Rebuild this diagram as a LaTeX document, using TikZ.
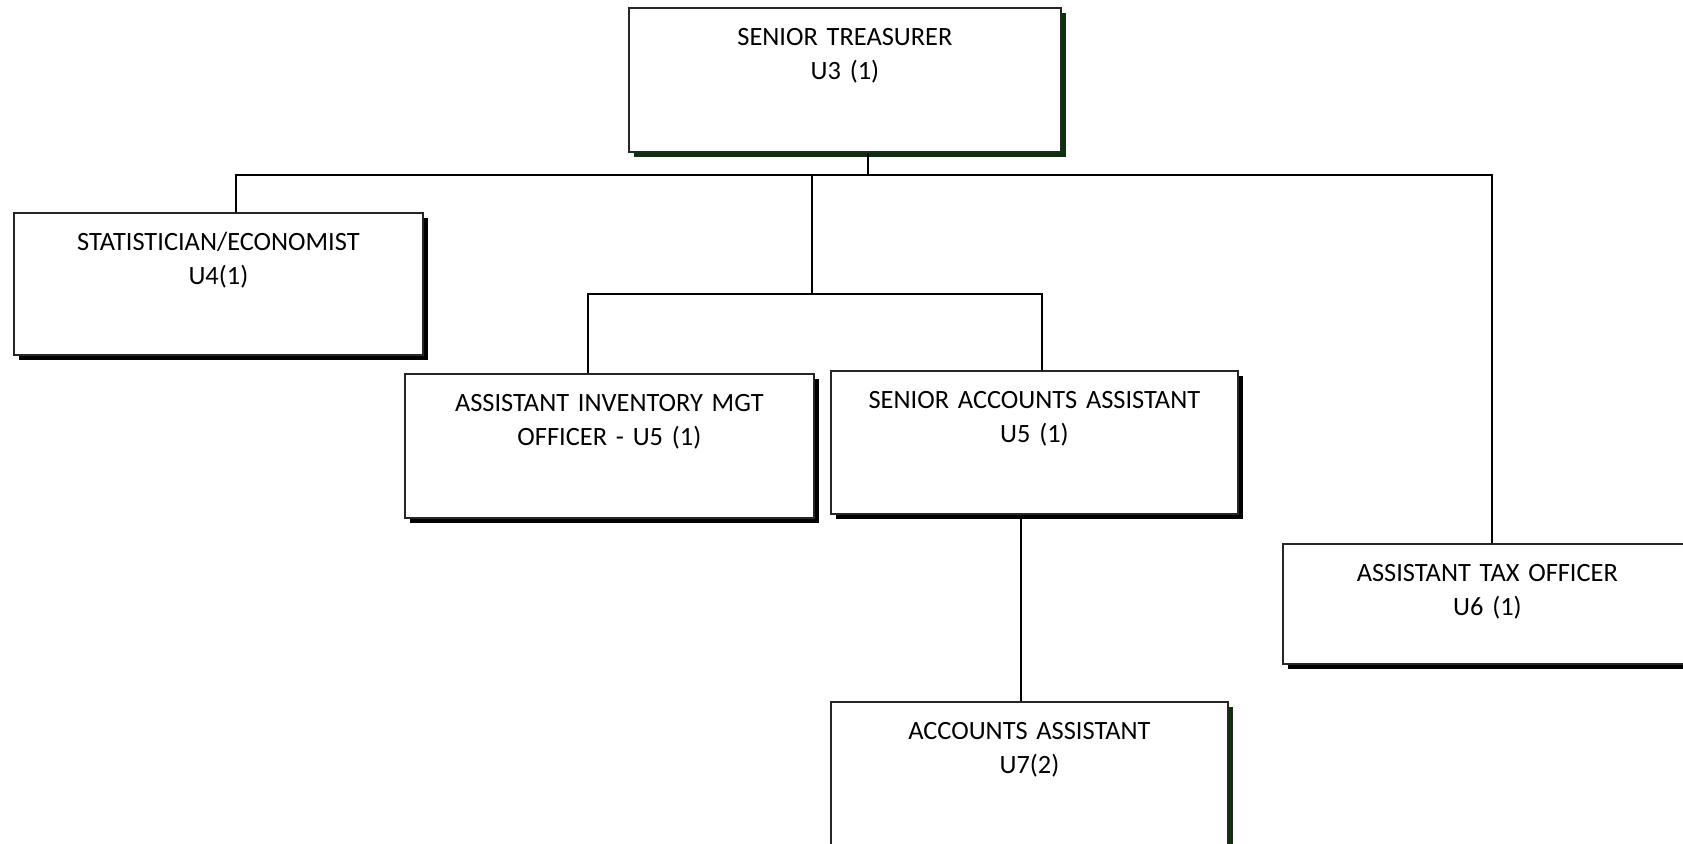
\documentclass[tikz,border=0pt]{standalone}
\usepackage{fontspec}
\setmainfont{Carlito}
\usetikzlibrary{shadows}
\definecolor{shadegreen}{RGB}{8,52,8}

\begin{document}
\begin{tikzpicture}[x=0.5pt,y=-0.5pt,
    postbox/.style={draw=black!85, line width=0.9pt, fill=white, anchor=north west,
      inner xsep=0pt, inner ysep=0pt, text width=#1, align=center, text height=19pt,
      font=\fontsize{13.2}{17}\selectfont},
    blackshade/.style={drop shadow={shadow xshift=2.6pt, shadow yshift=-2.6pt, fill=black, opacity=1}},
    greenshade/.style={drop shadow={shadow xshift=2.6pt, shadow yshift=-2.6pt, fill=shadegreen, opacity=1}},
    link/.style={line width=0.8pt}]
  \useasboundingbox (0,0) rectangle (1683,844);
  \clip (0,0) rectangle (1683,844);

  \node[postbox=216pt, text depth=53pt, greenshade] (treas) at (628,7) {SENIOR TREASURER\\U3 (1)};
  \node[postbox=204.5pt, text depth=52pt, blackshade] (stat) at (13,212) {STATISTICIAN/ECONOMIST\\U4(1)};
  \node[postbox=204.5pt, text depth=53pt, blackshade] (inv) at (404,373) {ASSISTANT INVENTORY MGT\\OFFICER - U5 (1)};
  \node[postbox=203.5pt, text depth=52.5pt, blackshade] (senior) at (830,370) {SENIOR ACCOUNTS ASSISTANT\\U5 (1)};
  \node[postbox=204.5pt, text depth=41pt, blackshade] (tax) at (1282,543) {ASSISTANT TAX OFFICER\\U6 (1)};
  \node[postbox=198.5pt, text depth=53pt, greenshade] (acct) at (830,701) {ACCOUNTS ASSISTANT\\U7(2)};

  \coordinate (topbus) at (868,175);
  \coordinate (midbus) at (812,294);
  \coordinate (sadrop) at ([xshift=-6.75pt]senior.south);

  \draw[link] (treas.south -| topbus) -- (topbus);
  \draw[link] ([xshift=8.75pt]stat.north) |- (topbus) -| ([xshift=2.25pt]tax.north);
  \draw[link] (midbus |- topbus) -- (midbus);
  \draw[link] ([xshift=-10.75pt]inv.north) |- (midbus) -| ([xshift=3.75pt]senior.north);
  \draw[link] (sadrop) -- (sadrop |- acct.north);
\end{tikzpicture}
\end{document}
